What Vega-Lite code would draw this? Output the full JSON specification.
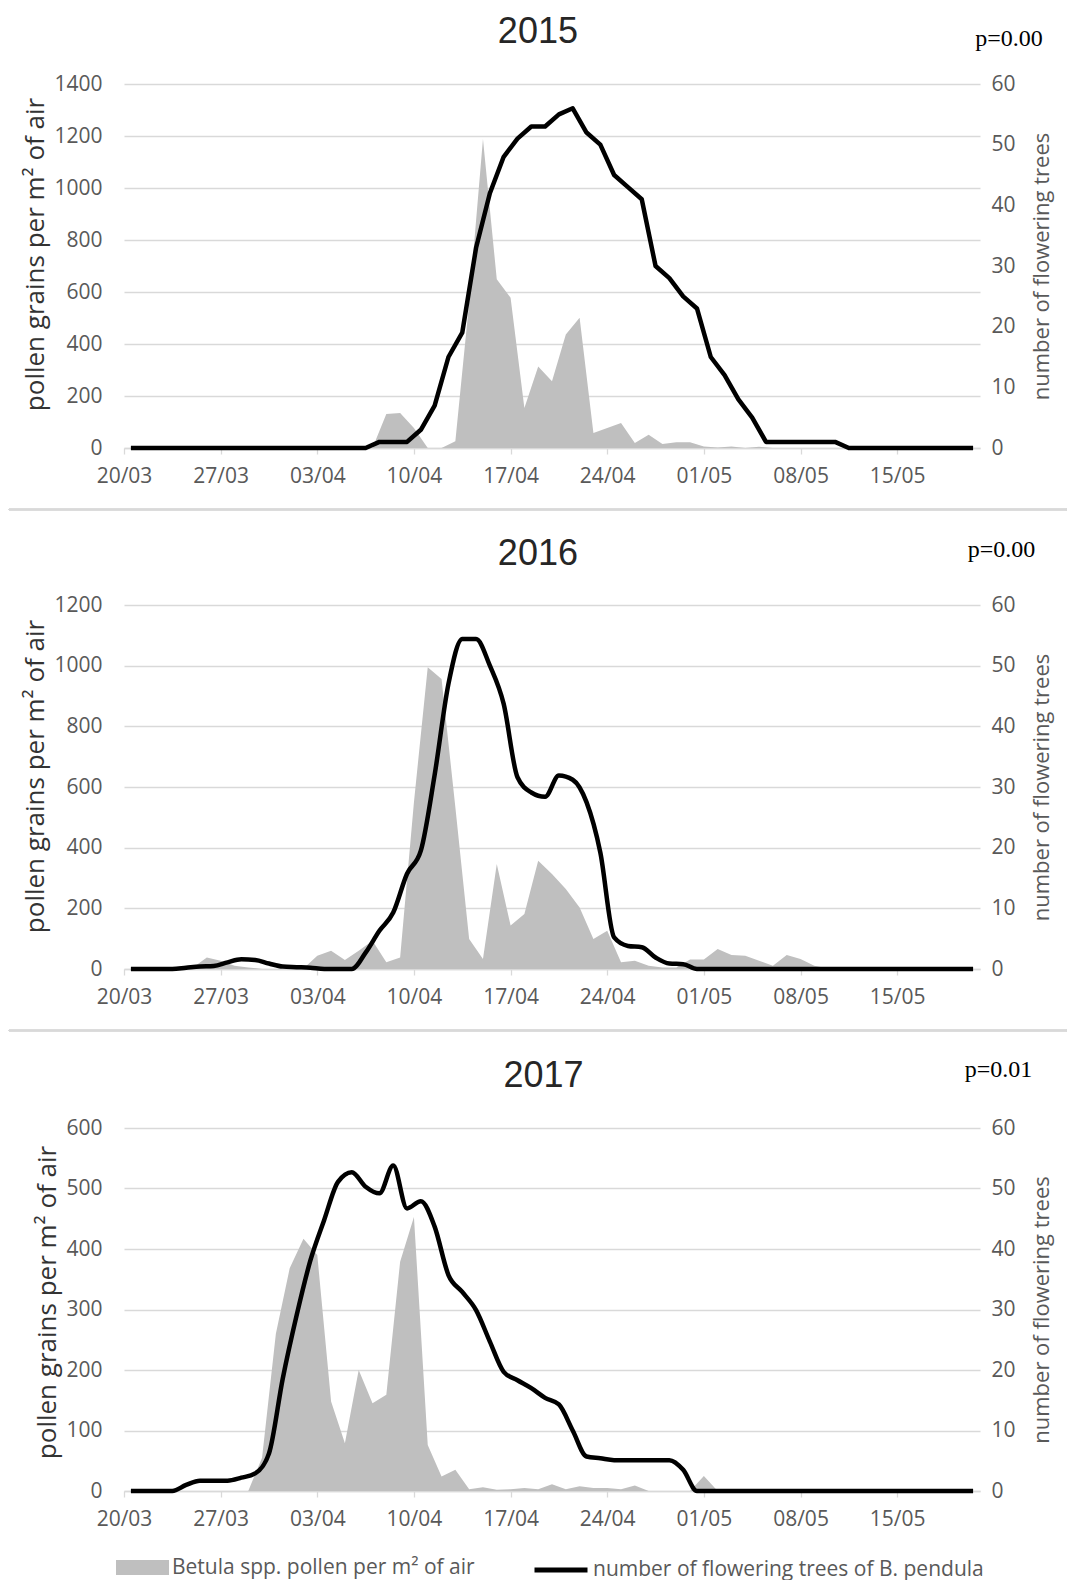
{
  "$schema": "https://vega.github.io/schema/vega-lite/v6.json",
  "padding": {"left": 8, "top": 13, "right": 0, "bottom": 0},
  "spacing": 25,
  "datasets": {
    "y2015": [
      {"date":"2015-03-20","pollen":0,"trees":0},{"date":"2015-03-21","pollen":0,"trees":0},{"date":"2015-03-22","pollen":0,"trees":0},{"date":"2015-03-23","pollen":0,"trees":0},{"date":"2015-03-24","pollen":0,"trees":0},{"date":"2015-03-25","pollen":0,"trees":0},{"date":"2015-03-26","pollen":0,"trees":0},{"date":"2015-03-27","pollen":0,"trees":0},{"date":"2015-03-28","pollen":0,"trees":0},{"date":"2015-03-29","pollen":0,"trees":0},{"date":"2015-03-30","pollen":0,"trees":0},{"date":"2015-03-31","pollen":0,"trees":0},{"date":"2015-04-01","pollen":0,"trees":0},{"date":"2015-04-02","pollen":0,"trees":0},{"date":"2015-04-03","pollen":0,"trees":0},{"date":"2015-04-04","pollen":0,"trees":0},{"date":"2015-04-05","pollen":0,"trees":0},{"date":"2015-04-06","pollen":0,"trees":0},{"date":"2015-04-07","pollen":0,"trees":1},{"date":"2015-04-08","pollen":131,"trees":1},{"date":"2015-04-09","pollen":135,"trees":1},{"date":"2015-04-10","pollen":77,"trees":3},{"date":"2015-04-11","pollen":0,"trees":7},{"date":"2015-04-12","pollen":0,"trees":15},{"date":"2015-04-13","pollen":26,"trees":19},{"date":"2015-04-14","pollen":560,"trees":33},{"date":"2015-04-15","pollen":1188,"trees":42},{"date":"2015-04-16","pollen":649,"trees":48},{"date":"2015-04-17","pollen":578,"trees":51},{"date":"2015-04-18","pollen":154,"trees":53},{"date":"2015-04-19","pollen":313,"trees":53},{"date":"2015-04-20","pollen":257,"trees":55},{"date":"2015-04-21","pollen":437,"trees":56},{"date":"2015-04-22","pollen":501,"trees":52},{"date":"2015-04-23","pollen":58,"trees":50},{"date":"2015-04-24","pollen":77,"trees":45},{"date":"2015-04-25","pollen":96,"trees":43},{"date":"2015-04-26","pollen":19,"trees":41},{"date":"2015-04-27","pollen":51,"trees":30},{"date":"2015-04-28","pollen":15,"trees":28},{"date":"2015-04-29","pollen":22,"trees":25},{"date":"2015-04-30","pollen":22,"trees":23},{"date":"2015-05-01","pollen":6,"trees":15},{"date":"2015-05-02","pollen":2,"trees":12},{"date":"2015-05-03","pollen":6,"trees":8},{"date":"2015-05-04","pollen":0,"trees":5},{"date":"2015-05-05","pollen":5,"trees":1},{"date":"2015-05-06","pollen":0,"trees":1},{"date":"2015-05-07","pollen":0,"trees":1},{"date":"2015-05-08","pollen":0,"trees":1},{"date":"2015-05-09","pollen":0,"trees":1},{"date":"2015-05-10","pollen":0,"trees":1},{"date":"2015-05-11","pollen":0,"trees":0},{"date":"2015-05-12","pollen":0,"trees":0},{"date":"2015-05-13","pollen":0,"trees":0},{"date":"2015-05-14","pollen":0,"trees":0},{"date":"2015-05-15","pollen":0,"trees":0},{"date":"2015-05-16","pollen":0,"trees":0},{"date":"2015-05-17","pollen":0,"trees":0},{"date":"2015-05-18","pollen":0,"trees":0},{"date":"2015-05-19","pollen":0,"trees":0},{"date":"2015-05-20","pollen":0,"trees":0}
    ],
    "y2016": [
      {"date":"2016-03-20","pollen":0,"trees":0},{"date":"2016-03-21","pollen":0,"trees":0},{"date":"2016-03-22","pollen":0,"trees":0},{"date":"2016-03-23","pollen":0,"trees":0},{"date":"2016-03-24","pollen":0,"trees":0.2},{"date":"2016-03-25","pollen":5,"trees":0.4},{"date":"2016-03-26","pollen":38,"trees":0.5},{"date":"2016-03-27","pollen":27,"trees":1.1},{"date":"2016-03-28","pollen":11,"trees":1.6},{"date":"2016-03-29","pollen":5,"trees":1.5},{"date":"2016-03-30","pollen":0,"trees":0.9},{"date":"2016-03-31","pollen":0,"trees":0.4},{"date":"2016-04-01","pollen":0,"trees":0.3},{"date":"2016-04-02","pollen":2,"trees":0.2},{"date":"2016-04-03","pollen":44,"trees":0},{"date":"2016-04-04","pollen":60,"trees":0},{"date":"2016-04-05","pollen":30,"trees":0},{"date":"2016-04-06","pollen":60,"trees":2.7},{"date":"2016-04-07","pollen":93,"trees":6.3},{"date":"2016-04-08","pollen":22,"trees":9.3},{"date":"2016-04-09","pollen":38,"trees":15.7},{"date":"2016-04-10","pollen":550,"trees":19.5},{"date":"2016-04-11","pollen":995,"trees":32},{"date":"2016-04-12","pollen":956,"trees":47},{"date":"2016-04-13","pollen":533,"trees":54.4},{"date":"2016-04-14","pollen":99,"trees":54.4},{"date":"2016-04-15","pollen":33,"trees":50},{"date":"2016-04-16","pollen":346,"trees":43.7},{"date":"2016-04-17","pollen":143,"trees":31.6},{"date":"2016-04-18","pollen":181,"trees":29.1},{"date":"2016-04-19","pollen":357,"trees":28.4},{"date":"2016-04-20","pollen":313,"trees":31.9},{"date":"2016-04-21","pollen":264,"trees":31.2},{"date":"2016-04-22","pollen":203,"trees":27.5},{"date":"2016-04-23","pollen":99,"trees":19.2},{"date":"2016-04-24","pollen":126,"trees":5.2},{"date":"2016-04-25","pollen":22,"trees":3.8},{"date":"2016-04-26","pollen":27,"trees":3.6},{"date":"2016-04-27","pollen":11,"trees":1.9},{"date":"2016-04-28","pollen":5,"trees":0.9},{"date":"2016-04-29","pollen":5,"trees":0.8},{"date":"2016-04-30","pollen":31,"trees":0},{"date":"2016-05-01","pollen":31,"trees":0},{"date":"2016-05-02","pollen":66,"trees":0},{"date":"2016-05-03","pollen":46,"trees":0},{"date":"2016-05-04","pollen":44,"trees":0},{"date":"2016-05-05","pollen":27,"trees":0},{"date":"2016-05-06","pollen":11,"trees":0},{"date":"2016-05-07","pollen":46,"trees":0},{"date":"2016-05-08","pollen":33,"trees":0},{"date":"2016-05-09","pollen":11,"trees":0},{"date":"2016-05-10","pollen":2,"trees":0},{"date":"2016-05-11","pollen":0,"trees":0},{"date":"2016-05-12","pollen":0,"trees":0},{"date":"2016-05-13","pollen":0,"trees":0},{"date":"2016-05-14","pollen":0,"trees":0},{"date":"2016-05-15","pollen":0,"trees":0},{"date":"2016-05-16","pollen":0,"trees":0},{"date":"2016-05-17","pollen":0,"trees":0},{"date":"2016-05-18","pollen":0,"trees":0},{"date":"2016-05-19","pollen":0,"trees":0},{"date":"2016-05-20","pollen":0,"trees":0}
    ],
    "y2017": [
      {"date":"2017-03-20","pollen":0,"trees":0},{"date":"2017-03-21","pollen":0,"trees":0},{"date":"2017-03-22","pollen":0,"trees":0},{"date":"2017-03-23","pollen":0,"trees":0},{"date":"2017-03-24","pollen":0,"trees":1},{"date":"2017-03-25","pollen":0,"trees":1.7},{"date":"2017-03-26","pollen":0,"trees":1.7},{"date":"2017-03-27","pollen":0,"trees":1.7},{"date":"2017-03-28","pollen":0,"trees":2.2},{"date":"2017-03-29","pollen":0,"trees":2.9},{"date":"2017-03-30","pollen":55,"trees":6.2},{"date":"2017-03-31","pollen":260,"trees":18.6},{"date":"2017-04-01","pollen":368,"trees":29},{"date":"2017-04-02","pollen":417,"trees":38.1},{"date":"2017-04-03","pollen":390,"trees":44.8},{"date":"2017-04-04","pollen":148,"trees":51.1},{"date":"2017-04-05","pollen":79,"trees":52.7},{"date":"2017-04-06","pollen":200,"trees":50.3},{"date":"2017-04-07","pollen":145,"trees":49.2},{"date":"2017-04-08","pollen":159,"trees":53.8},{"date":"2017-04-09","pollen":379,"trees":46.7},{"date":"2017-04-10","pollen":453,"trees":47.9},{"date":"2017-04-11","pollen":76,"trees":43.7},{"date":"2017-04-12","pollen":24,"trees":35.7},{"date":"2017-04-13","pollen":35,"trees":32.9},{"date":"2017-04-14","pollen":3,"trees":29.9},{"date":"2017-04-15","pollen":6,"trees":24.7},{"date":"2017-04-16","pollen":2,"trees":19.7},{"date":"2017-04-17","pollen":3,"trees":18.3},{"date":"2017-04-18","pollen":5,"trees":17},{"date":"2017-04-19","pollen":3,"trees":15.4},{"date":"2017-04-20","pollen":11,"trees":14.3},{"date":"2017-04-21","pollen":3,"trees":10},{"date":"2017-04-22","pollen":8,"trees":5.7},{"date":"2017-04-23","pollen":5,"trees":5.4},{"date":"2017-04-24","pollen":5,"trees":5.1},{"date":"2017-04-25","pollen":3,"trees":5.1},{"date":"2017-04-26","pollen":9,"trees":5.1},{"date":"2017-04-27","pollen":0,"trees":5.1},{"date":"2017-04-28","pollen":0,"trees":5.1},{"date":"2017-04-29","pollen":0,"trees":3.5},{"date":"2017-04-30","pollen":0,"trees":0},{"date":"2017-05-01","pollen":25,"trees":0},{"date":"2017-05-02","pollen":0,"trees":0},{"date":"2017-05-03","pollen":0,"trees":0},{"date":"2017-05-04","pollen":0,"trees":0},{"date":"2017-05-05","pollen":0,"trees":0},{"date":"2017-05-06","pollen":0,"trees":0},{"date":"2017-05-07","pollen":0,"trees":0},{"date":"2017-05-08","pollen":0,"trees":0},{"date":"2017-05-09","pollen":0,"trees":0},{"date":"2017-05-10","pollen":0,"trees":0},{"date":"2017-05-11","pollen":3,"trees":0},{"date":"2017-05-12","pollen":0,"trees":0},{"date":"2017-05-13","pollen":0,"trees":0},{"date":"2017-05-14","pollen":0,"trees":0},{"date":"2017-05-15","pollen":0,"trees":0},{"date":"2017-05-16","pollen":0,"trees":0},{"date":"2017-05-17","pollen":0,"trees":0},{"date":"2017-05-18","pollen":0,"trees":0},{"date":"2017-05-19","pollen":0,"trees":0},{"date":"2017-05-20","pollen":0,"trees":0}
    ]
  },
  "vconcat": [
    {
      "title": {"text": "2015", "offset": -24},
      "width": 856, "height": 364,
      "data": {"name": "y2015"},
      "layer": [
        {"layer": [
          {"mark": {"type": "area", "color": "#bfbfbf"},
           "encoding": {
             "x": {"field": "date", "type": "temporal", "timeUnit": "utcyearmonthdate", "bandPosition": 0.5,
                   "scale": {"domain": [{"year":2015,"month":3,"date":20,"utc":true},{"year":2015,"month":5,"date":21,"utc":true}]},
                   "axis": {"values": [{"year":2015,"month":3,"date":20,"utc":true},{"year":2015,"month":3,"date":27,"utc":true},{"year":2015,"month":4,"date":3,"utc":true},{"year":2015,"month":4,"date":10,"utc":true},{"year":2015,"month":4,"date":17,"utc":true},{"year":2015,"month":4,"date":24,"utc":true},{"year":2015,"month":5,"date":1,"utc":true},{"year":2015,"month":5,"date":8,"utc":true},{"year":2015,"month":5,"date":15,"utc":true}],
                            "labelExpr": "utcFormat(datum.value, '%d/%m')", "labelFlush": false, "labelOverlap": false, "grid": false, "domainColor": "#d9d9d9", "domainWidth": 1.3, "tickColor": "#d9d9d9", "tickSize": 6, "tickWidth": 1.3, "labelPadding": 11, "title": null}},
             "y": {"field": "pollen", "type": "quantitative", "scale": {"domain": [0, 1400]},
                   "axis": {"values": [0,200,400,600,800,1000,1200,1400], "format": "d", "grid": true, "gridColor": "#d9d9d9", "gridWidth": 1.3, "domain": false, "ticks": false, "tickSize": 0, "labelPadding": 22, "title": "pollen grains per m² of air", "titleFontSize": 26, "titleColor": "#333333", "titlePadding": 5, "titleY": 170}}
           }},
          {"data": {"values": [{"p": "p=0.00"}]},
           "mark": {"type": "text", "font": "Liberation Serif", "fontSize": 24, "align": "right", "baseline": "middle", "color": "#000000"},
           "encoding": {
             "x": {"datum": {"year":2015,"month":5,"date":25,"hours":13,"utc":true}, "type": "temporal"},
             "y": {"datum": 1575, "type": "quantitative"},
             "text": {"field": "p"}
           }},
          {"mark": {"type": "rule", "color": "#d9d9d9", "strokeWidth": 1.5},
           "encoding": {
             "x": {"datum": {"year":2015,"month":3,"date":11,"hours":16,"utc":true}, "type": "temporal"},
             "x2": {"datum": {"year":2015,"month":5,"date":27,"hours":7,"utc":true}},
             "y": {"datum": -237, "type": "quantitative"}
           }}
        ]},
        {"mark": {"type": "line", "color": "#000000", "strokeWidth": 4.5, "strokeJoin": "round"},
         "encoding": {
           "x": {"field": "date", "type": "temporal", "timeUnit": "utcyearmonthdate", "bandPosition": 0.5,
                 "scale": {"domain": [{"year":2015,"month":3,"date":20,"utc":true},{"year":2015,"month":5,"date":21,"utc":true}]},
                 "axis": {"values": [{"year":2015,"month":3,"date":20,"utc":true},{"year":2015,"month":3,"date":27,"utc":true},{"year":2015,"month":4,"date":3,"utc":true},{"year":2015,"month":4,"date":10,"utc":true},{"year":2015,"month":4,"date":17,"utc":true},{"year":2015,"month":4,"date":24,"utc":true},{"year":2015,"month":5,"date":1,"utc":true},{"year":2015,"month":5,"date":8,"utc":true},{"year":2015,"month":5,"date":15,"utc":true}],
                          "labelExpr": "utcFormat(datum.value, '%d/%m')", "labelFlush": false, "labelOverlap": false, "grid": false, "domainColor": "#d9d9d9", "domainWidth": 1.3, "tickColor": "#d9d9d9", "tickSize": 6, "tickWidth": 1.3, "labelPadding": 11, "title": null}},
           "y": {"field": "trees", "type": "quantitative", "scale": {"domain": [0, 60]},
                 "axis": {"orient": "right", "values": [0,10,20,30,40,50,60], "grid": false, "domain": false, "ticks": false, "tickSize": 0, "labelPadding": 11, "title": "number of flowering trees", "titleFontSize": 22, "titleColor": "#595959", "titleAngle": 270, "titleBaseline": "top", "titlePadding": 16}}
         }}
      ],
      "resolve": {"scale": {"y": "independent"}}
    },
    {
      "title": {"text": "2016", "offset": -35},
      "width": 856, "height": 364,
      "data": {"name": "y2016"},
      "layer": [
        {"layer": [
          {"mark": {"type": "area", "color": "#bfbfbf"},
           "encoding": {
             "x": {"field": "date", "type": "temporal", "timeUnit": "utcyearmonthdate", "bandPosition": 0.5,
                   "scale": {"domain": [{"year":2016,"month":3,"date":20,"utc":true},{"year":2016,"month":5,"date":21,"utc":true}]},
                   "axis": {"values": [{"year":2016,"month":3,"date":20,"utc":true},{"year":2016,"month":3,"date":27,"utc":true},{"year":2016,"month":4,"date":3,"utc":true},{"year":2016,"month":4,"date":10,"utc":true},{"year":2016,"month":4,"date":17,"utc":true},{"year":2016,"month":4,"date":24,"utc":true},{"year":2016,"month":5,"date":1,"utc":true},{"year":2016,"month":5,"date":8,"utc":true},{"year":2016,"month":5,"date":15,"utc":true}],
                            "labelExpr": "utcFormat(datum.value, '%d/%m')", "labelFlush": false, "labelOverlap": false, "grid": false, "domainColor": "#d9d9d9", "domainWidth": 1.3, "tickColor": "#d9d9d9", "tickSize": 6, "tickWidth": 1.3, "labelPadding": 11, "title": null}},
             "y": {"field": "pollen", "type": "quantitative", "scale": {"domain": [0, 1200]},
                   "axis": {"values": [0,200,400,600,800,1000,1200], "format": "d", "grid": true, "gridColor": "#d9d9d9", "gridWidth": 1.3, "domain": false, "ticks": false, "tickSize": 0, "labelPadding": 22, "title": "pollen grains per m² of air", "titleFontSize": 26, "titleColor": "#333333", "titlePadding": 5, "titleY": 171}}
           }},
          {"data": {"values": [{"p": "p=0.00"}]},
           "mark": {"type": "text", "font": "Liberation Serif", "fontSize": 24, "align": "right", "baseline": "middle", "color": "#000000"},
           "encoding": {
             "x": {"datum": {"year":2016,"month":5,"date":25,"hours":0,"utc":true}, "type": "temporal"},
             "y": {"datum": 1381, "type": "quantitative"},
             "text": {"field": "p"}
           }},
          {"mark": {"type": "rule", "color": "#d9d9d9", "strokeWidth": 1.5},
           "encoding": {
             "x": {"datum": {"year":2016,"month":3,"date":11,"hours":16,"utc":true}, "type": "temporal"},
             "x2": {"datum": {"year":2016,"month":5,"date":27,"hours":7,"utc":true}},
             "y": {"datum": -203, "type": "quantitative"}
           }}
        ]},
        {"mark": {"type": "line", "color": "#000000", "strokeWidth": 4.5, "strokeJoin": "round", "interpolate": "monotone"},
         "encoding": {
           "x": {"field": "date", "type": "temporal", "timeUnit": "utcyearmonthdate", "bandPosition": 0.5,
                 "scale": {"domain": [{"year":2016,"month":3,"date":20,"utc":true},{"year":2016,"month":5,"date":21,"utc":true}]},
                 "axis": {"values": [{"year":2016,"month":3,"date":20,"utc":true},{"year":2016,"month":3,"date":27,"utc":true},{"year":2016,"month":4,"date":3,"utc":true},{"year":2016,"month":4,"date":10,"utc":true},{"year":2016,"month":4,"date":17,"utc":true},{"year":2016,"month":4,"date":24,"utc":true},{"year":2016,"month":5,"date":1,"utc":true},{"year":2016,"month":5,"date":8,"utc":true},{"year":2016,"month":5,"date":15,"utc":true}],
                          "labelExpr": "utcFormat(datum.value, '%d/%m')", "labelFlush": false, "labelOverlap": false, "grid": false, "domainColor": "#d9d9d9", "domainWidth": 1.3, "tickColor": "#d9d9d9", "tickSize": 6, "tickWidth": 1.3, "labelPadding": 11, "title": null}},
           "y": {"field": "trees", "type": "quantitative", "scale": {"domain": [0, 60]},
                 "axis": {"orient": "right", "values": [0,10,20,30,40,50,60], "grid": false, "domain": false, "ticks": false, "tickSize": 0, "labelPadding": 11, "title": "number of flowering trees", "titleFontSize": 22, "titleColor": "#595959", "titleAngle": 270, "titleBaseline": "top", "titlePadding": 16}}
         }}
      ],
      "resolve": {"scale": {"y": "independent"}}
    },
    {
      "title": {"text": "2017", "offset": -37},
      "width": 856, "height": 363,
      "data": {"name": "y2017"},
      "layer": [
        {"layer": [
          {"mark": {"type": "area"},
           "encoding": {
             "x": {"field": "date", "type": "temporal", "timeUnit": "utcyearmonthdate", "bandPosition": 0.5,
                   "scale": {"domain": [{"year":2017,"month":3,"date":20,"utc":true},{"year":2017,"month":5,"date":21,"utc":true}]},
                   "axis": {"values": [{"year":2017,"month":3,"date":20,"utc":true},{"year":2017,"month":3,"date":27,"utc":true},{"year":2017,"month":4,"date":3,"utc":true},{"year":2017,"month":4,"date":10,"utc":true},{"year":2017,"month":4,"date":17,"utc":true},{"year":2017,"month":4,"date":24,"utc":true},{"year":2017,"month":5,"date":1,"utc":true},{"year":2017,"month":5,"date":8,"utc":true},{"year":2017,"month":5,"date":15,"utc":true}],
                            "labelExpr": "utcFormat(datum.value, '%d/%m')", "labelFlush": false, "labelOverlap": false, "grid": false, "domainColor": "#d9d9d9", "domainWidth": 1.3, "tickColor": "#d9d9d9", "tickSize": 6, "tickWidth": 1.3, "labelPadding": 11, "title": null}},
             "y": {"field": "pollen", "type": "quantitative", "scale": {"domain": [0, 600]},
                   "axis": {"values": [0,100,200,300,400,500,600], "format": "d", "grid": true, "gridColor": "#d9d9d9", "gridWidth": 1.3, "domain": false, "ticks": false, "tickSize": 0, "labelPadding": 22, "title": "pollen grains per m² of air", "titleFontSize": 26, "titleColor": "#333333", "titlePadding": 5, "titleY": 174}},
             "fill": {"datum": "Betula spp. pollen per m² of air", "scale": {"range": ["#bfbfbf"]},
                      "legend": {"orient": "none", "legendX": -8, "legendY": 1457, "title": null, "symbolType": "M-1,-0.28L1,-0.28L1,0.28L-1,0.28Z", "symbolSize": 2809, "symbolStrokeWidth": 0, "labelLimit": 600, "labelOffset": 3, "padding": 0}}
           }},
          {"data": {"values": [{"p": "p=0.01"}]},
           "mark": {"type": "text", "font": "Liberation Serif", "fontSize": 24, "align": "right", "baseline": "middle", "color": "#000000"},
           "encoding": {
             "x": {"datum": {"year":2017,"month":5,"date":24,"hours":19,"utc":true}, "type": "temporal"},
             "y": {"datum": 696, "type": "quantitative"},
             "text": {"field": "p"}
           }}
        ]},
        {"mark": {"type": "line", "strokeWidth": 4.5, "strokeJoin": "round", "interpolate": "monotone"},
         "encoding": {
           "x": {"field": "date", "type": "temporal", "timeUnit": "utcyearmonthdate", "bandPosition": 0.5,
                 "scale": {"domain": [{"year":2017,"month":3,"date":20,"utc":true},{"year":2017,"month":5,"date":21,"utc":true}]},
                 "axis": {"values": [{"year":2017,"month":3,"date":20,"utc":true},{"year":2017,"month":3,"date":27,"utc":true},{"year":2017,"month":4,"date":3,"utc":true},{"year":2017,"month":4,"date":10,"utc":true},{"year":2017,"month":4,"date":17,"utc":true},{"year":2017,"month":4,"date":24,"utc":true},{"year":2017,"month":5,"date":1,"utc":true},{"year":2017,"month":5,"date":8,"utc":true},{"year":2017,"month":5,"date":15,"utc":true}],
                          "labelExpr": "utcFormat(datum.value, '%d/%m')", "labelFlush": false, "labelOverlap": false, "grid": false, "domainColor": "#d9d9d9", "domainWidth": 1.3, "tickColor": "#d9d9d9", "tickSize": 6, "tickWidth": 1.3, "labelPadding": 11, "title": null}},
           "y": {"field": "trees", "type": "quantitative", "scale": {"domain": [0, 60]},
                 "axis": {"orient": "right", "values": [0,10,20,30,40,50,60], "grid": false, "domain": false, "ticks": false, "tickSize": 0, "labelPadding": 11, "title": "number of flowering trees", "titleFontSize": 22, "titleColor": "#595959", "titleAngle": 270, "titleBaseline": "top", "titlePadding": 16}},
           "stroke": {"datum": "number of flowering trees of B. pendula", "scale": {"range": ["#000000"]},
                      "legend": {"orient": "none", "legendX": 408, "legendY": 1457, "title": null, "symbolType": "stroke", "symbolSize": 2809, "symbolStrokeWidth": 5, "labelLimit": 600, "labelOffset": 3, "padding": 0}}
         }}
      ],
      "resolve": {"scale": {"y": "independent"}}
    }
  ],
  "config": {
    "view": {"stroke": null},
    "axis": {"labelFont": "Open Sans", "labelFontSize": 21, "labelColor": "#595959", "titleFont": "Open Sans", "titleFontWeight": "normal"},
    "title": {"font": "Liberation Sans", "fontSize": 36, "fontWeight": "normal", "color": "#262626", "anchor": "middle", "frame": "bounds"},
    "legend": {"labelFont": "Open Sans", "labelFontSize": 21, "labelColor": "#595959"}
  }
}
